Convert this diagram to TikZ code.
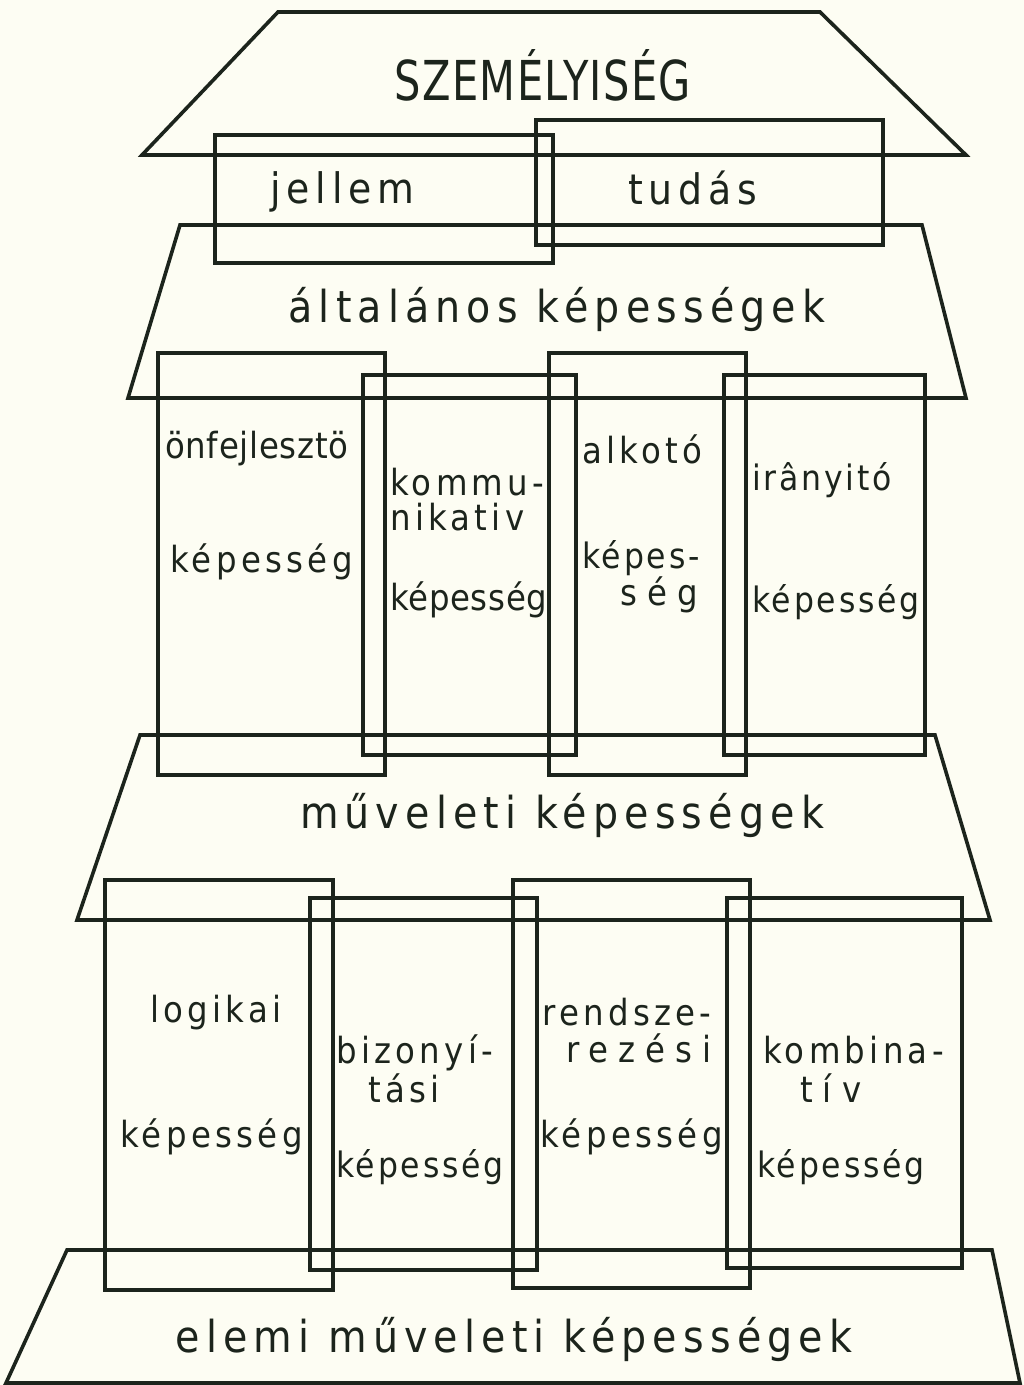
\documentclass[tikz,border=0pt]{standalone}
\usepackage{fontspec}
\newfontfamily\labA[LetterSpace=2]{DejaVu Sans Condensed}
\newfontfamily\labB[LetterSpace=8]{DejaVu Sans Condensed}
\newfontfamily\labC[LetterSpace=12]{DejaVu Sans Condensed}
\newfontfamily\labD[LetterSpace=28]{DejaVu Sans Condensed}
\newfontfamily\labE[LetterSpace=14]{DejaVu Sans Condensed}
\newfontfamily\labT[LetterSpace=3]{DejaVu Sans Condensed}
\definecolor{paper}{RGB}{253,253,243}
\definecolor{ink}{RGB}{28,36,28}
\begin{document}
\begin{tikzpicture}[x=1pt,y=-1pt,
  outline/.style={draw=ink, line width=3.6pt, line join=miter},
  base/.style={text=ink, inner sep=0pt, anchor=base west},
  sm/.style={base, font=\labC\fontsize{36}{40}\selectfont},
  smtight/.style={base, font=\labA\fontsize{36}{40}\selectfont},
  smmid/.style={base, font=\labB\fontsize{35}{40}\selectfont},
  smwide/.style={base, font=\labD\fontsize{36}{40}\selectfont},
  mid/.style={base, font=\labE\fontsize{42}{46}\selectfont},
  big/.style={base, anchor=base, font=\labE\fontsize{44}{48}\selectfont},
  title/.style={base, anchor=base, font=\labT\fontsize{55}{60}\selectfont}]
\fill[paper] (0,0) rectangle (1024,1385);
\useasboundingbox (0,0) rectangle (1024,1385);
% trapezoids
\draw[outline] (278,12) -- (820,12) -- (966,155) -- (142,155) -- cycle;
\draw[outline] (180,225) -- (922,225) -- (966,398) -- (128,398) -- cycle;
\draw[outline] (140,735) -- (935,735) -- (990,920) -- (77,920) -- cycle;
\draw[outline] (67,1250) -- (992,1250) -- (1020,1383) -- (6,1383) -- cycle;
% top boxes
\draw[outline] (215,135) rectangle (553,263);
\draw[outline] (536,120) rectangle (883,245);
% row 1 columns
\draw[outline] (158,353) rectangle (385,775);
\draw[outline] (363,375) rectangle (576,755);
\draw[outline] (549,353) rectangle (746,775);
\draw[outline] (724,375) rectangle (925,755);
% row 2 columns
\draw[outline] (105,880) rectangle (333,1290);
\draw[outline] (310,898) rectangle (537,1270);
\draw[outline] (513,880) rectangle (750,1288);
\draw[outline] (727,898) rectangle (962,1268);
% texts
\node[title] (szem) at (543,100) {\scalebox{0.84}[1]{SZEMÉLYISÉG}};
\node[mid] (jel) at (270,203) {jellem};
\node[mid] (tud) at (628,204) {tudás};
\node[big] (alt) at (557,322) {általános képességek};
\node[smtight] (onf) at (165,458) {önfejlesztö};
\node[sm] (k1) at (170,572) {képesség};
\node[sm] (kom1) at (390,495) {kommu-};
\node[sm] (kom2) at (390,530) {nikativ};
\node[smtight] (k2) at (390,610) {képesség};
\node[sm] (alk) at (582,463) {alkotó};
\node[smmid] (k3a) at (582,568) {képes-};
\node[smwide] (k3b) at (620,605) {ség};
\node[smmid] (ira) at (752,490) {irânyitó};
\node[smmid] (k4) at (752,612) {képesség};
\node[big] (muv) at (562,828) {műveleti képességek};
\node[sm] (log) at (150,1022) {logikai};
\node[sm] (k5) at (120,1147) {képesség};
\node[sm] (biz1) at (336,1063) {bizonyí-};
\node[sm] (biz2) at (368,1102) {tási};
\node[smmid] (k6) at (336,1177) {képesség};
\node[sm] (ren1) at (542,1025) {rendsze-};
\node[smwide] (ren2) at (566,1062) {rezési};
\node[sm] (k7) at (540,1147) {képesség};
\node[sm] (kmb1) at (763,1063) {kombina-};
\node[smwide] (kmb2) at (800,1102) {tív};
\node[smmid] (k8) at (757,1177) {képesség};
\node[big] (elem) at (514,1352) {elemi műveleti képességek};
\end{tikzpicture}
\end{document}
